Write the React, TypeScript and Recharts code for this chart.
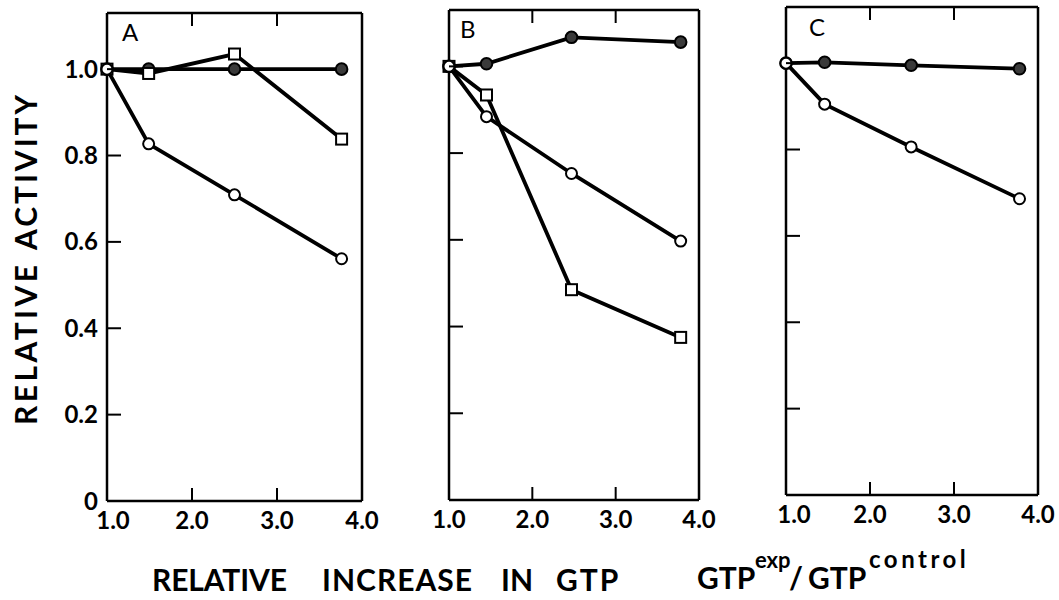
import React from "react";
import { LineChart, Line, XAxis, YAxis } from "recharts";

// x positions (GTP exp / GTP control) and relative activity
const xA = [1.0, 1.49, 2.5, 3.76];
const openA = [1.0, 0.827, 0.709, 0.561];
const filledA = [1.0, 1.0, 1.0, 1.0];
const squareA = [1.0, 0.99, 1.035, 0.838];

const xB = [1.0, 1.45, 2.47, 3.78];
const openB = [1.0, 0.884, 0.753, 0.597];
const filledB = [1.0, 1.006, 1.067, 1.056];
const squareB = [1.0, 0.934, 0.485, 0.375];

const xC = [1.0, 1.46, 2.49, 3.78];
const openC = [1.0, 0.905, 0.806, 0.686];
const filledC = [1.0, 1.002, 0.995, 0.987];

const xTicks = [1, 2, 3, 4];
const yTicks = [0, 0.2, 0.4, 0.6, 0.8, 1.0];
const yDomain = [0, 1.13];

const FONT = "Lato, 'DejaVu Sans', sans-serif";

function rows(xs: number[], open: number[], filled: number[], square?: number[]) {
  return xs.map((x, i) => ({
    x,
    open: open[i],
    filled: filled[i],
    square: square ? square[i] : undefined,
  }));
}

const OpenDot = (p: any) =>
  p.cx == null ? null : (
    <circle key={p.index} cx={p.cx} cy={p.cy} r={5.5} fill="#fff" stroke="#000" strokeWidth={2} />
  );
const FilledDot = (p: any) =>
  p.cx == null ? null : (
    <circle key={p.index} cx={p.cx} cy={p.cy} r={5.8} fill="#3a3a3a" stroke="#000" strokeWidth={2} />
  );
const SquareDot = (p: any) =>
  p.cx == null ? null : (
    <rect key={p.index} x={p.cx - 5.5} y={p.cy - 5.5} width={11} height={11} fill="#fff" stroke="#000" strokeWidth={2} />
  );

function Panel({
  data,
  left,
  top,
  width,
  height,
  plot,
  labels,
  firstDx,
}: {
  data: any[];
  left: number;
  top: number;
  width: number;
  height: number;
  plot: { l: number; r: number; t: number; b: number };
  labels: boolean;
  firstDx: number;
}) {
  const hasSquare = data.some((d) => d.square !== undefined);
  const axisLine = { stroke: "#000", strokeWidth: 2.5 };

  const LeftTick = (p: any) => (
    <g key={p.index}>
      {p.payload.value > 0 && (
        <line x1={p.x} x2={p.x + 14} y1={p.y} y2={p.y} stroke="#000" strokeWidth={2} />
      )}
      {labels && (
        <text x={p.x - 9} y={p.y + 8.5} textAnchor="end" fontSize={24} fontWeight={700} fontFamily={FONT} fill="#000">
          {p.payload.value === 0 ? "0" : p.payload.value.toFixed(1)}
        </text>
      )}
    </g>
  );
  const RightTick = (p: any) =>
    p.payload.value > 0 ? (
      <line key={p.index} x1={p.x} x2={p.x - 14} y1={p.y} y2={p.y} stroke="#000" strokeWidth={2} />
    ) : (
      <g key={p.index} />
    );
  const BottomTick = (p: any) => (
    <g key={p.index}>
      {p.payload.value > 1 && p.payload.value < 4 && (
        <line x1={p.x} x2={p.x} y1={p.y} y2={p.y - 13} stroke="#000" strokeWidth={2} />
      )}
      <text
        x={p.x + (p.payload.value === 1 ? firstDx : 0)}
        y={p.y + 28}
        textAnchor="middle"
        fontSize={24}
        fontWeight={700}
        fontFamily={FONT}
        fill="#000"
      >
        {p.payload.value.toFixed(1)}
      </text>
    </g>
  );
  const TopTick = (p: any) =>
    p.payload.value > 1 && p.payload.value < 4 ? (
      <line key={p.index} x1={p.x} x2={p.x} y1={p.y} y2={p.y + 13} stroke="#000" strokeWidth={2} />
    ) : (
      <g key={p.index} />
    );

  return (
    <div style={{ position: "absolute", left, top }}>
      <LineChart width={width} height={height} data={data} margin={{ top: 0, right: 0, bottom: 0, left: 0 }}>
        <XAxis
          xAxisId="b"
          dataKey="x"
          type="number"
          domain={[1, 4]}
          ticks={xTicks}
          height={height - plot.b}
          tickSize={0}
          tickMargin={0}
          tickLine={false}
          axisLine={axisLine}
          tick={BottomTick}
          interval={0}
        />
        <XAxis
          xAxisId="t"
          orientation="top"
          dataKey="x"
          type="number"
          domain={[1, 4]}
          ticks={xTicks}
          height={plot.t}
          tickSize={0}
          tickMargin={0}
          tickLine={false}
          axisLine={axisLine}
          tick={TopTick}
          interval={0}
        />
        <YAxis
          yAxisId="l"
          type="number"
          domain={yDomain}
          ticks={yTicks}
          width={plot.l}
          tickSize={0}
          tickMargin={0}
          tickLine={false}
          axisLine={axisLine}
          tick={LeftTick}
          interval={0}
        />
        <YAxis
          yAxisId="r"
          orientation="right"
          type="number"
          domain={yDomain}
          ticks={yTicks}
          width={width - plot.r}
          tickSize={0}
          tickMargin={0}
          tickLine={false}
          axisLine={axisLine}
          tick={RightTick}
          interval={0}
        />
        <Line
          xAxisId="b"
          yAxisId="l"
          type="linear"
          dataKey="filled"
          stroke="#000"
          strokeWidth={3.8}
          dot={FilledDot}
          isAnimationActive={false}
        />
        {hasSquare && (
          <Line
            xAxisId="b"
            yAxisId="l"
            type="linear"
            dataKey="square"
            stroke="#000"
            strokeWidth={3.8}
            dot={SquareDot}
            isAnimationActive={false}
          />
        )}
        <Line
          xAxisId="b"
          yAxisId="l"
          type="linear"
          dataKey="open"
          stroke="#000"
          strokeWidth={3.8}
          dot={OpenDot}
          isAnimationActive={false}
        />
      </LineChart>
    </div>
  );
}

export default function App() {
  const txt = { fontFamily: FONT, fill: "#000", fontWeight: 700 };
  const fit = "spacing";
  return (
    <div style={{ position: "absolute", left: 0, top: 0, width: 1059, height: 600, background: "#fff" }}>
      <Panel
        data={rows(xA, openA, filledA, squareA)}
        left={0}
        top={0}
        width={380}
        height={545}
        plot={{ l: 107, r: 362, t: 13, b: 501 }}
        labels={true}
        firstDx={6}
      />
      <Panel
        data={rows(xB, openB, filledB, squareB)}
        left={400}
        top={0}
        width={320}
        height={545}
        plot={{ l: 49, r: 299, t: 10, b: 500 }}
        labels={false}
        firstDx={0}
      />
      <Panel
        data={rows(xC, openC, filledC)}
        left={740}
        top={0}
        width={319}
        height={545}
        plot={{ l: 46, r: 298, t: 7, b: 495 }}
        labels={false}
        firstDx={8}
      />
      <svg width={1059} height={600} style={{ position: "absolute", left: 0, top: 0, pointerEvents: "none" }}>
        <text x={122} y={41} fontSize={24} {...txt} fontWeight={400}>A</text>
        <text x={460} y={38} fontSize={24} {...txt} fontWeight={400}>B</text>
        <text x={809} y={36} fontSize={24} {...txt} fontWeight={400}>C</text>

        <g transform="translate(37, 0) rotate(-90)">
          <text x={-425} y={0} fontSize={30} textLength={160} lengthAdjust={fit} {...txt}>RELATIVE</text>
          <text x={-250} y={0} fontSize={30} textLength={155} lengthAdjust={fit} {...txt}>ACTIVITY</text>
        </g>

        <text x={152} y={591} fontSize={30} textLength={135} lengthAdjust={fit} {...txt}>RELATIVE</text>
        <text x={322} y={591} fontSize={30} textLength={150} lengthAdjust={fit} {...txt}>INCREASE</text>
        <text x={501} y={591} fontSize={30} {...txt}>IN</text>
        <text x={556} y={591} fontSize={30} letterSpacing={2} {...txt}>GTP</text>

        <text x={697} y={589} fontSize={30} {...txt}>GTP</text>
        <text x={755} y={568} fontSize={22} {...txt}>exp</text>
        <text x={789} y={589} fontSize={30} {...txt}>/</text>
        <text x={808} y={589} fontSize={30} {...txt}>GTP</text>
        <text x={869} y={568} fontSize={24} letterSpacing={3.5} {...txt}>control</text>
      </svg>
    </div>
  );
}
